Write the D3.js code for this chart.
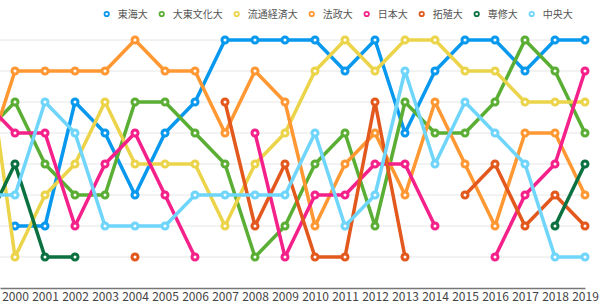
<!DOCTYPE html>
<html>
<head>
<meta charset="utf-8">
<script src="https://cdn.jsdelivr.net/npm/d3@7"></script>
<style>
  body { margin: 0; background: #fff; }
  text { font-family: "Noto Sans CJK JP", "Noto Sans", sans-serif; }
</style>
</head>
<body>
<script>
// years (1999 sits just left of the visible area, only its lines show)
const years = d3.range(1999, 2020);
const tickYears = d3.range(2000, 2020);
const ranks = [1, 2, 3, 4, 5, 6, 7, 8];

const schools = ["東海大", "大東文化大", "流通経済大", "法政大", "日本大", "拓殖大", "専修大", "中央大"];
const colors = ["#0898ee", "#5aae34", "#ebd449", "#ff9833", "#f5218a", "#e2581d", "#0b7140", "#6fd5fb"];

// rank per year, 1999..2019 (null = outside top 8)
const tokai    = [null, 7, 7, 3, 4, 6, 4, 3, 1, 1, 1, 1, 2, 1, 4, 2, 1, 1, 2, 1, 1];
const daitobunka = [4, 3, 5, 6, 6, 3, 3, 4, 5, 8, 7, 5, 4, 7, 3, 4, 4, 3, 1, 2, 4];
const ryutsu   = [1, 8, 6, 5, 3, 5, 5, 5, 7, 5, 4, 2, 1, 2, 1, 1, 2, 2, 3, 3, 3];
const hosei    = [5, 2, 2, 2, 2, 1, 2, 2, 4, 2, 3, 7, 5, 4, 6, 3, 5, 7, 4, 4, 6];
const nihon    = [3, 4, 4, 7, 5, 4, 6, 8, null, 4, 8, 6, 6, 5, 5, 7, null, 8, 6, 5, 2];
const takushoku = [null, null, null, null, null, 8, null, null, 3, 7, 5, 8, 8, 3, 8, null, 6, 5, 7, 6, 7];
const senshu   = [7, 5, 8, 8, null, null, null, null, null, null, null, null, null, null, null, null, null, null, null, 7, 5];
const chuo     = [6, 6, 3, 4, 7, 7, 7, 6, 6, 6, 6, 4, 7, 6, 2, 5, 3, 4, 5, 8, 8];

const values = [tokai, daitobunka, ryutsu, hosei, nihon, takushoku, senshu, chuo];

const w = 600;
const h = 306;

const svg = d3.select("body")
    .append("svg")
    .attr("width", w)
    .attr("height", h);

const xScale = d3.scaleLinear().domain([1999.5, 2019]).range([0, 585]);
const yScale = d3.scaleLinear().domain([1, 9]).range([40, 288]);

svg.append("defs").append("clipPath")
    .attr("id", "plot-clip")
    .append("rect")
    .attr("x", 0).attr("y", 0)
    .attr("width", w).attr("height", h);

// gridlines
svg.append("g")
    .selectAll("line")
    .data(ranks)
    .enter()
    .append("line")
    .attr("x1", 0)
    .attr("x2", 588)
    .attr("y1", d => yScale(d))
    .attr("y2", d => yScale(d))
    .attr("stroke", "#e6e6e6")
    .attr("stroke-width", 1);

// x axis
const xAxis = d3.axisBottom(xScale)
    .tickValues(tickYears)
    .tickFormat(d3.format("d"))
    .tickSize(0)
    .tickSizeOuter(0)
    .tickPadding(4);

const axisG = svg.append("g")
    .attr("transform", "translate(0," + yScale(9) + ")")
    .call(xAxis);
axisG.select(".domain").attr("stroke", "#777").attr("stroke-width", 1.5);
axisG.selectAll("text")
    .attr("fill", "#444")
    .style("font-size", "12px");

// series
const series = schools.map((name, i) => ({
    name: name,
    color: colors[i],
    points: years.map((yr, j) => ({ year: yr, rank: values[i][j] }))
}));

const line = d3.line()
    .defined(d => d.rank != null)
    .x(d => xScale(d.year))
    .y(d => yScale(d.rank));

const plot = svg.append("g").attr("clip-path", "url(#plot-clip)");

const sg = plot.selectAll(".series")
    .data(series)
    .enter()
    .append("g")
    .attr("class", "series");

sg.append("path")
    .attr("d", d => line(d.points))
    .attr("fill", "none")
    .attr("stroke", d => d.color)
    .attr("stroke-width", 3.5)
    .attr("stroke-linejoin", "round");

sg.each(function (s) {
    d3.select(this).selectAll("circle")
        .data(s.points.filter(p => p.rank != null))
        .enter()
        .append("circle")
        .attr("cx", p => xScale(p.year))
        .attr("cy", p => yScale(p.rank))
        .attr("r", 3)
        .attr("fill", "#fff")
        .attr("stroke", s.color)
        .attr("stroke-width", 3);
});

// legend
const legend = svg.append("g").attr("id", "legend");
let lx = 106.7;
schools.forEach((name, i) => {
    legend.append("circle")
        .attr("cx", lx)
        .attr("cy", 14)
        .attr("r", 2.2)
        .attr("fill", "#fff")
        .attr("stroke", colors[i])
        .attr("stroke-width", 1.8);
    const t = legend.append("text")
        .attr("x", lx + 11)
        .attr("y", 14)
        .attr("dy", "0.35em")
        .attr("fill", "#555")
        .style("font-size", "10px")
        .text(name);
    lx += 11 + t.node().getComputedTextLength() + 14;
});
</script>
</body>
</html>
